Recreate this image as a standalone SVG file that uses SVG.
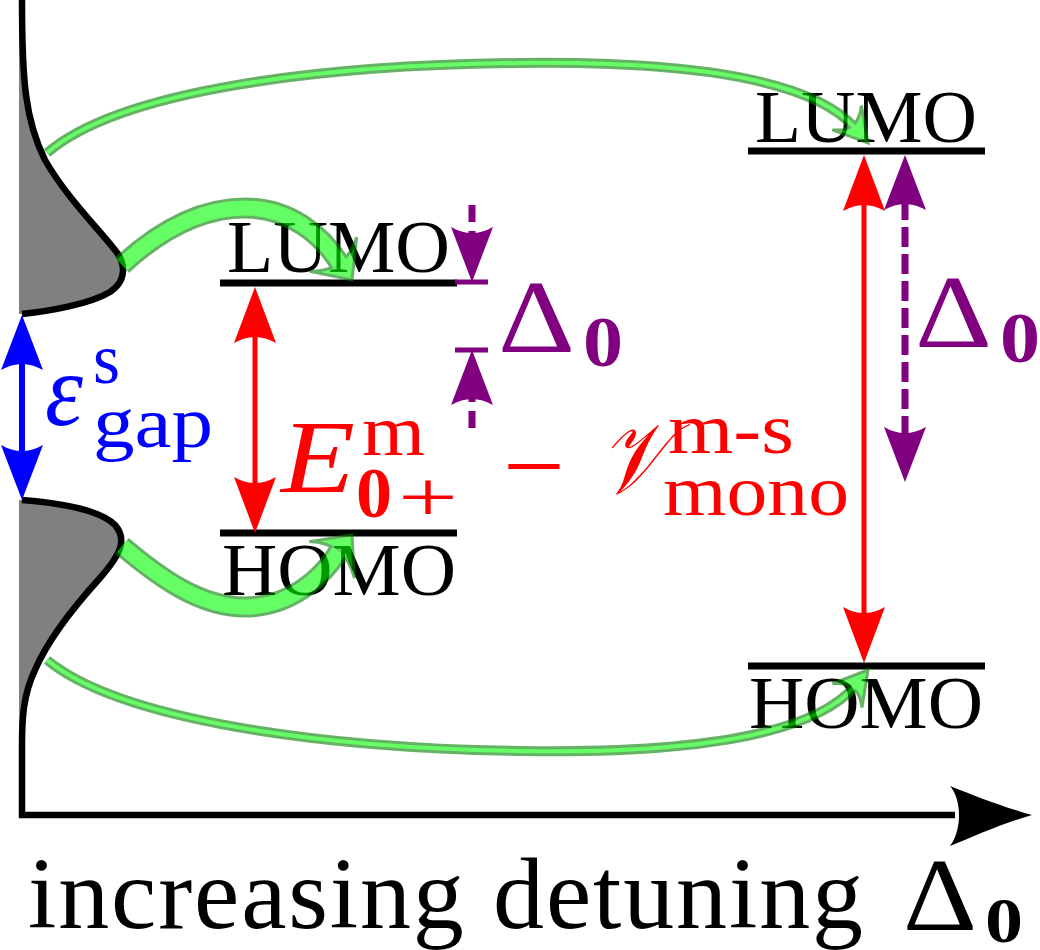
<svg xmlns="http://www.w3.org/2000/svg" width="1040" height="950" viewBox="0 0 1040 950">
  <style>
    .serif { font-family: "Liberation Serif", "Times New Roman", serif; }
    .lvl { font-family: "Liberation Serif", serif; font-size: 75px; fill: #000; text-anchor: middle; }
    .level { stroke: #000; stroke-width: 7; fill: none; }
    .main { font-family: "Liberation Serif", serif; font-size: 104px; }
    .sub { font-family: "Liberation Serif", serif; font-size: 72px; }
    .bold { font-weight: bold; }
    .red { fill: #ff0000; }
    .blue { fill: #0000ff; }
    .purple { fill: #800080; }
    .dos { fill: #808080; stroke: none; }
    .curve { fill: none; stroke: #000; stroke-width: 6.5; stroke-linejoin: miter; }
    .gout { fill: none; stroke: #008000; }
    .gin { fill: none; stroke: #00ff00; }
    .ghead { fill: #00ff00; stroke: #008000; stroke-width: 3; }
  </style>
  <defs>
    <marker id="mRed" viewBox="-60 -25 64 50" markerWidth="64" markerHeight="50" refX="-45" refY="0" markerUnits="userSpaceOnUse" orient="auto-start-reverse" overflow="visible">
      <path d="M0,0 L-56,-21 Q-44,0 -56,21 Z" fill="#ff0000"/>
    </marker>
    <marker id="mBlue" viewBox="-60 -25 64 50" markerWidth="64" markerHeight="50" refX="-45" refY="0" markerUnits="userSpaceOnUse" orient="auto-start-reverse" overflow="visible">
      <path d="M0,0 L-55,-21 Q-43,0 -55,21 Z" fill="#0000ff"/>
    </marker>
    <marker id="mPurple" viewBox="-60 -25 64 50" markerWidth="64" markerHeight="50" refX="-45" refY="0" markerUnits="userSpaceOnUse" orient="auto-start-reverse" overflow="visible">
      <path d="M0,0 L-55,-21 Q-43,0 -55,21 Z" fill="#800080"/>
    </marker>
    <path id="gheadThick" d="M0,0 L-32,-29 Q-10,0 -32,29 Z"/>
    <path id="gheadThin" d="M0,0 L-33,-19 Q-14,0 -33,19 Z"/>
  </defs>

  <!-- density of states and axes -->
  <g id="dos-axis">
    <path class="dos" d="M22,0 C22,80 25,120 45,160 C65,195 95,225 115,250 C125,262 128,280 110,292 C90,304 50,311 22,314 L19,314 L19,0 Z"/>
    <path class="dos" d="M22,500 C60,503 100,510 115,525 C128,540 120,555 100,578 C80,600 50,635 35,670 C23,695 22,720 22,745 L19,745 L19,500 Z"/>
    <path class="curve" d="M22,0 C22,80 25,120 45,160 C65,195 95,225 115,250 C125,262 128,280 110,292 C90,304 50,311 22,314"/>
    <path class="curve" d="M22,500 C60,503 100,510 115,525 C128,540 120,555 100,578 C80,600 50,635 35,670 C23,695 22,720 22,745 L22,815 L955,815"/>
    <path d="M1032,815 C1000,806 975,796 950,786 C962,800 962,830 950,846 C975,836 1000,824 1032,815 Z" fill="#000"/>
  </g>

  <g id="axis-label">
    <text class="serif" x="28" y="928" font-size="102" textLength="835" lengthAdjust="spacing">increasing detuning</text>
    <text class="serif" x="903" y="930" font-size="104" textLength="74" lengthAdjust="spacingAndGlyphs">Δ</text>
    <text class="serif bold" x="985" y="942" font-size="64" textLength="38" lengthAdjust="spacingAndGlyphs">0</text>
  </g>

  <g id="lumo-left">
    <line class="level" x1="220" y1="283" x2="457" y2="283"/>
    <text class="lvl" x="338.5" y="272" textLength="223" lengthAdjust="spacingAndGlyphs">LUMO</text>
  </g>
  <g id="homo-left">
    <line class="level" x1="220" y1="533" x2="457" y2="533"/>
    <text class="lvl" x="339" y="595" textLength="234" lengthAdjust="spacingAndGlyphs">HOMO</text>
  </g>
  <g id="lumo-right">
    <line class="level" x1="748" y1="151" x2="985" y2="151"/>
    <text class="lvl" x="866" y="142" textLength="222" lengthAdjust="spacingAndGlyphs">LUMO</text>
  </g>
  <g id="homo-right">
    <line class="level" x1="748" y1="666" x2="985" y2="666"/>
    <text class="lvl" x="866" y="728" textLength="234" lengthAdjust="spacingAndGlyphs">HOMO</text>
  </g>

  <g id="label-gap" class="blue">
    <text class="main" x="45" y="425" font-style="italic" textLength="38" lengthAdjust="spacingAndGlyphs">ε</text>
    <text class="sub" x="93" y="383" textLength="27" lengthAdjust="spacingAndGlyphs">s</text>
    <text class="sub" x="93" y="447" textLength="120" lengthAdjust="spacingAndGlyphs">gap</text>
  </g>

  <g id="label-energy" class="red">
    <text class="main" x="281" y="492" font-style="italic" textLength="74" lengthAdjust="spacingAndGlyphs">E</text>
    <text class="sub" x="362" y="455" textLength="63" lengthAdjust="spacingAndGlyphs">m</text>
    <text class="sub bold" x="356" y="517" font-size="66" textLength="36" lengthAdjust="spacingAndGlyphs">0</text>
    <text class="sub" x="398" y="521" font-size="90" textLength="60" lengthAdjust="spacingAndGlyphs">+</text>
    <text class="main" x="503" y="501" textLength="62" lengthAdjust="spacingAndGlyphs">−</text>
    <text x="600" y="493" font-family="'DejaVu Serif', 'Noto Sans', serif" font-size="100" font-style="italic" textLength="66" lengthAdjust="spacingAndGlyphs">𝒱</text>
    <text class="sub" x="668" y="453" textLength="126" lengthAdjust="spacingAndGlyphs">m-s</text>
    <text class="sub" x="663" y="515" textLength="186" lengthAdjust="spacingAndGlyphs">mono</text>
  </g>

  <g id="label-delta-left" class="purple">
    <text class="main" x="498" y="352" font-size="106" textLength="77" lengthAdjust="spacingAndGlyphs">Δ</text>
    <text class="sub bold" x="583" y="366" font-size="66" textLength="40" lengthAdjust="spacingAndGlyphs">0</text>
  </g>
  <g id="label-delta-right" class="purple">
    <text class="main" x="915" y="347" font-size="106" textLength="77" lengthAdjust="spacingAndGlyphs">Δ</text>
    <text class="sub bold" x="1000" y="362" font-size="66" textLength="40" lengthAdjust="spacingAndGlyphs">0</text>
  </g>

  <g id="connectors">
    <!-- band gap -->
    <line x1="22" y1="360" x2="22" y2="455" stroke="#0000ff" stroke-width="6" marker-start="url(#mBlue)" marker-end="url(#mBlue)"/>
    <!-- transport gaps -->
    <line x1="255" y1="332" x2="255" y2="488" stroke="#ff0000" stroke-width="5" marker-start="url(#mRed)" marker-end="url(#mRed)"/>
    <line x1="864" y1="200" x2="864" y2="618" stroke="#ff0000" stroke-width="5" marker-start="url(#mRed)" marker-end="url(#mRed)"/>
    <!-- detuning dimension left -->
    <line x1="472" y1="205" x2="472" y2="237" stroke="#800080" stroke-width="7" stroke-dasharray="17 9" marker-end="url(#mPurple)"/>
    <line x1="472" y1="428" x2="472" y2="395" stroke="#800080" stroke-width="7" stroke-dasharray="17 9" marker-end="url(#mPurple)"/>
    <line x1="455" y1="282" x2="488" y2="282" stroke="#800080" stroke-width="5"/>
    <line x1="455" y1="350" x2="488" y2="350" stroke="#800080" stroke-width="5"/>
    <!-- detuning dimension right -->
    <line x1="905" y1="200" x2="905" y2="437" stroke="#800080" stroke-width="7" stroke-dasharray="20 7" marker-start="url(#mPurple)" marker-end="url(#mPurple)"/>

    <!-- green transfer arrows -->
    <g opacity="0.6">
      <path class="gout" stroke-width="10" d="M47,153 C120,90 320,65 520,63 C700,61 815,82 855,128"/>
      <use href="#gheadThin" class="ghead" transform="translate(868,143) rotate(50)"/>
      <path class="gin" stroke-width="4" d="M47,153 C120,90 320,65 520,63 C700,61 815,82 855,128"/>
    </g>
    <g opacity="0.6">
      <path class="gout" stroke-width="21" d="M122,265 C160,230 200,208 245,208 C290,208 322,235 340,264"/>
      <use href="#gheadThick" class="ghead" transform="translate(352,280) rotate(54)"/>
      <path class="gin" stroke-width="15" d="M122,265 C160,230 200,208 245,208 C290,208 322,235 340,264"/>
    </g>
    <g opacity="0.6">
      <path class="gout" stroke-width="21" d="M122,546 C160,578 200,607 245,607 C290,607 322,578 339,551"/>
      <use href="#gheadThick" class="ghead" transform="translate(352,535) rotate(-51)"/>
      <path class="gin" stroke-width="15" d="M122,546 C160,578 200,607 245,607 C290,607 322,578 339,551"/>
    </g>
    <g opacity="0.6">
      <path class="gout" stroke-width="10" d="M47,660 C120,720 320,748 520,751 C700,754 815,733 855,686"/>
      <use href="#gheadThin" class="ghead" transform="translate(868,670) rotate(-51)"/>
      <path class="gin" stroke-width="4" d="M47,660 C120,720 320,748 520,751 C700,754 815,733 855,686"/>
    </g>
  </g>
</svg>
